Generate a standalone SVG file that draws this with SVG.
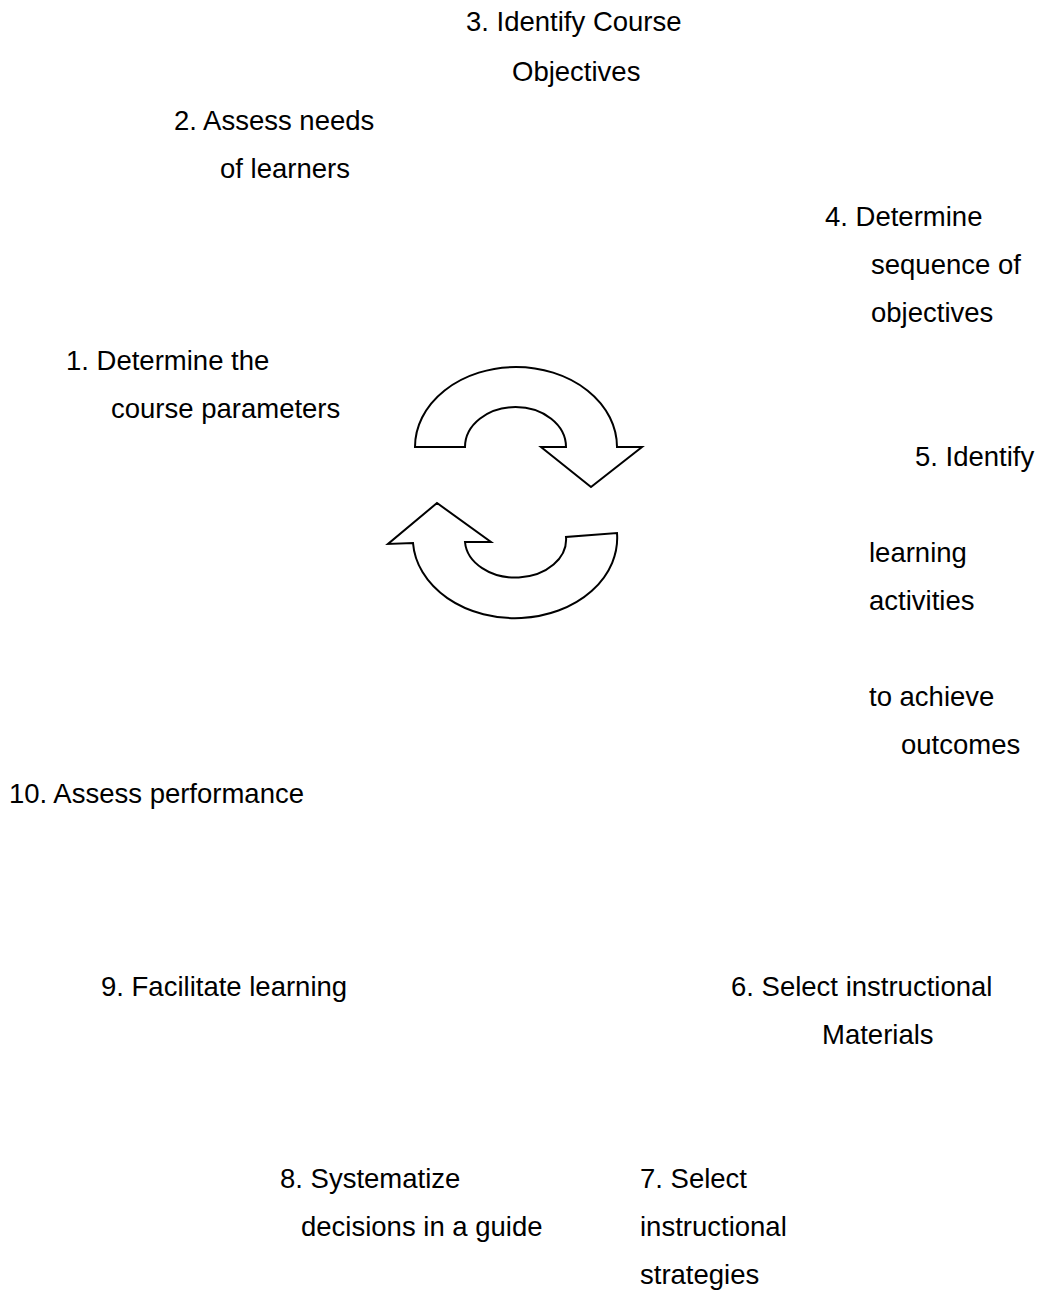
<svg xmlns="http://www.w3.org/2000/svg" width="1038" height="1290" viewBox="0 0 1038 1290">
  <style>
    .lbl { font-family: "Liberation Sans", Arial, sans-serif; font-size: 27.5px; fill: #000; }
    .cyc { fill: #fff; stroke: #000; stroke-width: 2; stroke-linejoin: miter; }
  </style>
  <rect width="1038" height="1290" fill="#fff"/>

  <!-- central cycle arrows -->
  <g id="cycle">
    <path class="cyc" d="M415,447 A101,80 0 0 1 617,447 L642,447 L591,487 L541,447 L566,447 A50.5,40 0 0 0 465,447 Z"/>
    <path class="cyc" d="M617,533 A102,80 0 0 1 413,543 L388,544 L437,503 L491,542 L465,542 A50.5,38 0 0 0 566,537 Z"/>
  </g>

  <g id="step1" class="lbl"><text x="66" y="370">1. Determine the</text><text x="111" y="418">course parameters</text></g>
  <g id="step2" class="lbl"><text x="174" y="130">2. Assess needs</text><text x="220" y="178">of learners</text></g>
  <g id="step3" class="lbl"><text x="466" y="31">3. Identify Course</text><text x="512" y="81">Objectives</text></g>
  <g id="step4" class="lbl"><text x="825" y="226">4. Determine</text><text x="871" y="274">sequence of</text><text x="871" y="322">objectives</text></g>
  <g id="step5" class="lbl"><text x="915" y="466">5. Identify</text><text x="869" y="562">learning</text><text x="869" y="610">activities</text><text x="869" y="706">to achieve</text><text x="901" y="754">outcomes</text></g>
  <g id="step6" class="lbl"><text x="731" y="996">6. Select instructional</text><text x="822" y="1044">Materials</text></g>
  <g id="step7" class="lbl"><text x="640" y="1188">7. Select</text><text x="640" y="1236">instructional</text><text x="640" y="1284">strategies</text></g>
  <g id="step8" class="lbl"><text x="280" y="1188">8. Systematize</text><text x="301" y="1236">decisions in a guide</text></g>
  <g id="step9" class="lbl"><text x="101" y="996">9. Facilitate learning</text></g>
  <g id="step10" class="lbl"><text x="9" y="803">10. Assess performance</text></g>
</svg>
